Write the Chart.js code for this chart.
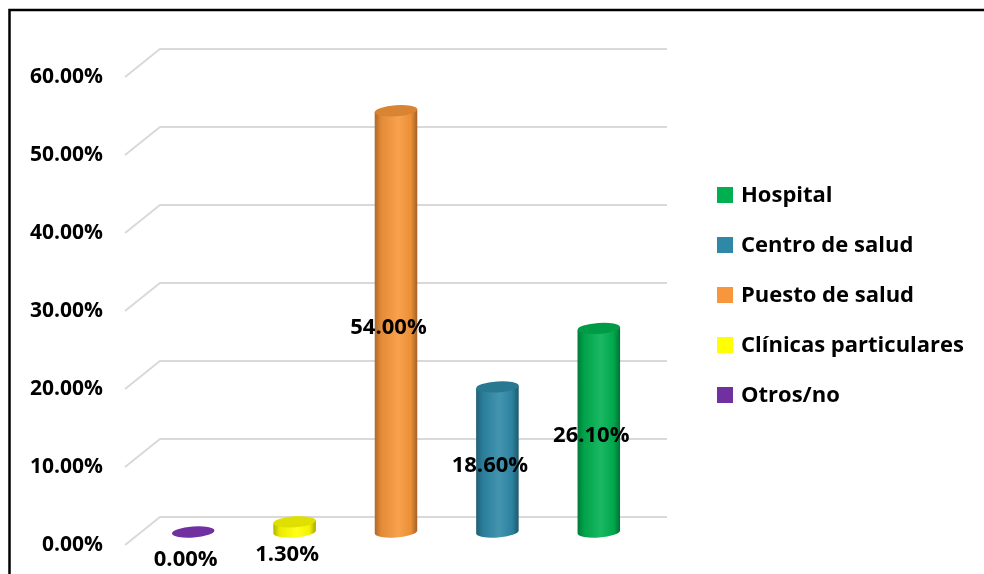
<!DOCTYPE html>
<html>
<head>
<meta charset="utf-8">
<script src="https://cdn.jsdelivr.net/npm/chart.js@4.4.0/dist/chart.umd.min.js"></script>
<style>
  html, body { margin: 0; padding: 0; background: #fff; }
  #wrap { width: 984px; height: 574px; position: relative; }
</style>
</head>
<body>
<div id="wrap"><canvas id="lugarChart" width="984" height="574"></canvas></div>
<script>
const categories = ['Otros/no', 'Clínicas particulares', 'Puesto de salud', 'Centro de salud', 'Hospital'];
const percentages = [0.0, 1.3, 54.0, 18.6, 26.1];
const barColors = ['#7030A0', '#FFFF00', '#F7963A', '#2E88A6', '#00B050'];
const yTicks = [0, 10, 20, 30, 40, 50, 60];

const DEPTH_X = 35, DEPTH_Y = 28;       // front-to-back offset of the floor/walls
const BAR_DX = 17.5, BAR_DY = -13;      // bars stand halfway into the depth
const FONT_FAMILY = '"Open Sans", "Liberation Sans", sans-serif';

function shade(hex, amt) {
    const n = parseInt(hex.slice(1), 16);
    let r = (n >> 16) & 255, g = (n >> 8) & 255, b = n & 255;
    const f = c => Math.max(0, Math.min(255, Math.round(amt < 0 ? c * (1 + amt) : c + (255 - c) * amt)));
    return 'rgb(' + f(r) + ',' + f(g) + ',' + f(b) + ')';
}

// frame, 3D gridlines
const backdrop = {
    id: 'backdrop',
    beforeDraw(chart) {
        const ctx = chart.ctx;
        const y = chart.scales.y;
        const area = chart.chartArea;
        ctx.save();
        ctx.strokeStyle = '#000';
        ctx.lineWidth = 2.5;
        ctx.beginPath();
        ctx.moveTo(9.5, 600);
        ctx.lineTo(9.5, 10);
        ctx.lineTo(1000, 10);
        ctx.stroke();

        ctx.strokeStyle = '#d9d9d9';
        ctx.lineWidth = 2;
        yTicks.forEach(function(v) {
            const py = y.getPixelForValue(v);
            ctx.beginPath();
            ctx.moveTo(area.left, py);
            ctx.lineTo(area.left + DEPTH_X, py - DEPTH_Y);
            ctx.lineTo(area.right + DEPTH_X, py - DEPTH_Y);
            ctx.stroke();
        });
        ctx.restore();
    }
};

// cylinders, value labels and the category legend
const cylinders = {
    id: 'cylinders',
    afterDatasetsDraw(chart) {
        const ctx = chart.ctx;
        const meta = chart.getDatasetMeta(0);
        const tilt = -0.07;
        const ry = 5.5;
        ctx.save();
        meta.data.forEach(function(bar, i) {
            const col = barColors[i];
            const cx = bar.x + BAR_DX;
            const rx = bar.width / 2;
            const top = bar.y + BAR_DY;
            const bottom = bar.base + BAR_DY;

            if (bottom - top > 0.5) {
                const grad = ctx.createLinearGradient(cx - rx, 0, cx + rx, 0);
                grad.addColorStop(0, shade(col, -0.3));
                grad.addColorStop(0.15, shade(col, -0.08));
                grad.addColorStop(0.55, shade(col, 0.1));
                grad.addColorStop(0.85, shade(col, -0.05));
                grad.addColorStop(1, shade(col, -0.35));
                ctx.fillStyle = grad;
                ctx.beginPath();
                ctx.ellipse(cx, bottom, rx, ry, tilt, 0, Math.PI, false);
                ctx.lineTo(cx - rx, top + rx * Math.sin(-tilt));
                ctx.lineTo(cx + rx, top + rx * Math.sin(tilt));
                ctx.closePath();
                ctx.fill();
            }
            ctx.fillStyle = bottom - top > 0.5 ? shade(col, -0.12) : col;
            ctx.beginPath();
            ctx.ellipse(cx, top, rx, ry, tilt, 0, Math.PI * 2);
            ctx.fill();

            // value label
            const h = bar.base - bar.y;
            const lx = bar.x + 10;
            const mid = (bar.y + bar.base) / 2;
            const ly = h < 30 ? mid + 15 : mid - 7;
            ctx.font = 'bold 22px ' + FONT_FAMILY;
            ctx.fillStyle = '#000';
            ctx.textAlign = 'center';
            ctx.textBaseline = 'middle';
            ctx.fillText(percentages[i].toFixed(2) + '%', lx, ly);
        });

        // legend, last category first
        const lx = 717, ly0 = 195, step = 50;
        ctx.textAlign = 'left';
        ctx.textBaseline = 'middle';
        ctx.font = 'bold 22px ' + FONT_FAMILY;
        categories.slice().reverse().forEach(function(name, k) {
            const idx = categories.length - 1 - k;
            const yy = ly0 + k * step;
            ctx.fillStyle = barColors[idx];
            ctx.fillRect(lx, yy - 8, 16, 16);
            ctx.fillStyle = '#000';
            ctx.fillText(name, lx + 24, yy + 1);
        });
        ctx.restore();
    }
};

const ctx = document.getElementById('lugarChart').getContext('2d');
new Chart(ctx, {
    type: 'bar',
    data: {
        labels: categories,
        datasets: [{
            label: 'Lugar',
            data: percentages,
            backgroundColor: 'rgba(0,0,0,0)',
            borderWidth: 0,
            barPercentage: 0.42,
            categoryPercentage: 1
        }]
    },
    options: {
        responsive: false,
        animation: false,
        layout: { padding: { left: 10, right: 352, top: 77, bottom: 29 } },
        plugins: {
            legend: { display: false },
            tooltip: { enabled: false }
        },
        scales: {
            x: { display: false },
            y: {
                min: 0,
                max: 60,
                afterFit: function(scale) { scale.width = 115; },
                border: { display: false },
                grid: { display: false, drawTicks: true, tickLength: 22 },
                ticks: {
                    stepSize: 10,
                    padding: 0,
                    color: '#000',
                    font: { family: FONT_FAMILY, size: 21, weight: 'bold' },
                    callback: function(v) { return v.toFixed(2) + '%'; }
                }
            }
        }
    },
    plugins: [backdrop, cylinders]
});
</script>
</body>
</html>
